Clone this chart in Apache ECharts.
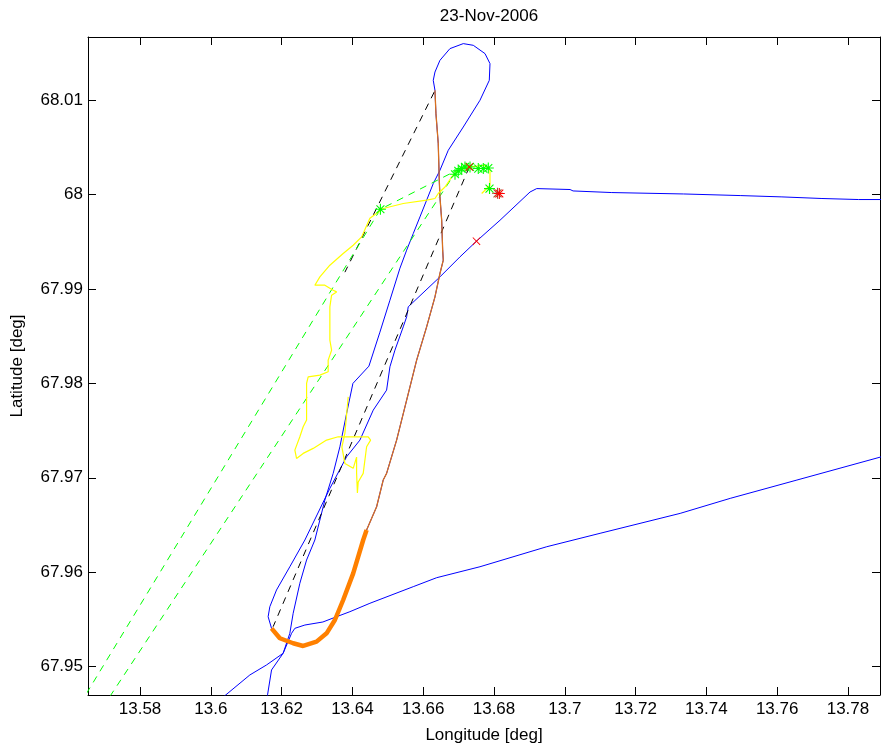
<!DOCTYPE html>
<html>
<head>
<meta charset="utf-8">
<script src="https://cdn.jsdelivr.net/npm/echarts@6/dist/echarts.min.js"></script>
<style>
html,body{margin:0;padding:0;background:#fff;}
#chart{width:881px;height:753px;}
</style>
</head>
<body>
<div id="chart"></div>
<script>
// ---- data (longitude, latitude) ----
const titleText = '23-Nov-2006';
const xName = 'Longitude [deg]';
const yName = 'Latitude [deg]';
const xTicks = [13.58,13.6,13.62,13.64,13.66,13.68,13.7,13.72,13.74,13.76,13.78];
const yTicks = [67.95,67.96,67.97,67.98,67.99,68,68.01];
const xRange = [13.5653, 13.78905];
const yRange = [67.9470, 68.01667];

// main blue track (loop)
const blueTrack = [
 [13.79196,67.99946],[13.78300,67.99946],[13.78255,67.99957],[13.77265,67.99957],[13.77217,67.99974],
 [13.76134,67.99974],[13.76086,67.99988],[13.74955,67.99988],[13.74907,68.00005],[13.73352,68.00005],
 [13.73307,68.00020],[13.71328,68.00020],[13.71280,68.00037],[13.70234,68.00037],[13.70149,68.00052],
 [13.69207,68.00062],[13.69018,68.00026],[13.68170,67.99727],[13.67505,67.99505],[13.67039,67.99339],
 [13.66473,67.99127],[13.65577,67.98810],[13.65532,67.98704],[13.65436,67.98598],[13.65201,67.98351],
 [13.65060,67.98175],[13.64966,67.97928],[13.64588,67.97716],[13.64212,67.97399],[13.63836,67.97222],
 [13.63363,67.96888],[13.62657,67.96341],[13.62232,67.96058],[13.61856,67.95812],[13.61667,67.95635],
 [13.61619,67.95529],[13.61715,67.95406],[13.61950,67.95301],[13.62326,67.95248],[13.62609,67.95219],
 [13.62987,67.95265],[13.63270,67.95353],[13.63505,67.95494],[13.63739,67.95706],[13.64022,67.95988],
 [13.64305,67.96341],[13.64401,67.96447],[13.64684,67.96693],[13.64870,67.96976],[13.64966,67.97047],
 [13.65249,67.97399],[13.65532,67.97822],[13.65815,67.98246],[13.66097,67.98598],[13.66332,67.98915],
 [13.66473,67.99163],[13.66567,67.99304],[13.66550,67.99410],[13.66522,67.99727],[13.66473,67.99974],
 [13.66454,68.00150],[13.66425,68.00539],[13.66380,68.00556],[13.66360,68.00856],[13.66332,68.01103],
 [13.66284,68.01208],[13.66332,68.01296],[13.66473,68.01420],[13.66756,68.01544],[13.67132,68.01597],
 [13.67415,68.01579],[13.67746,68.01491],[13.67887,68.01385],[13.67867,68.01208],[13.67604,68.00997],
 [13.67132,68.00714],[13.66708,68.00468],[13.66473,68.00256],[13.66284,68.00115],[13.66097,67.99939],
 [13.65908,67.99762],[13.65719,67.99586],[13.65532,67.99410],[13.65343,67.99219],[13.65060,67.98880],
 [13.64777,67.98542],[13.64466,67.98182],[13.64014,67.97999],[13.63836,67.97681],[13.63646,67.97328],
 [13.63457,67.97047],[13.63222,67.96764],[13.62939,67.96341],[13.62705,67.96129],[13.62515,67.95883],
 [13.62326,67.95565],[13.62232,67.95353],[13.62043,67.95142],[13.61715,67.94965],[13.61602,67.94701],
 [13.61554,67.94595]
];
// lower blue track
const blueLower = [
 [13.60084,67.94595],[13.60423,67.94701],[13.61102,67.94912],[13.61574,67.95018],[13.62043,67.95142],
 [13.62281,67.95353],[13.62374,67.95406],[13.62657,67.95441],[13.63166,67.95473],[13.63553,67.95529],
 [13.63929,67.95582],[13.64494,67.95671],[13.65719,67.95847],[13.66380,67.95942],[13.67604,67.96058],
 [13.69490,67.96270],[13.70997,67.96412],[13.73259,67.96623],[13.74673,67.96782],[13.76558,67.96976],
 [13.79196,67.97248]
];
// orange segments
const orangeThick = [
 [13.61715,67.95406],[13.61950,67.95301],[13.62326,67.95248],[13.62609,67.95219],[13.62987,67.95265],
 [13.63270,67.95353],[13.63505,67.95494],[13.63739,67.95706],[13.64022,67.95988],[13.64305,67.96341],
 [13.64401,67.96447]
];
const orangeThin = [
 [13.64401,67.96447],[13.64684,67.96693],[13.64870,67.96976],[13.64966,67.97047],[13.65249,67.97399],
 [13.65532,67.97822],[13.65815,67.98246],[13.66097,67.98598],[13.66332,67.98915],[13.66473,67.99163],
 [13.66567,67.99304],[13.66550,67.99410],[13.66522,67.99727],[13.66473,67.99974],[13.66454,68.00150],
 [13.66425,68.00539],[13.66380,68.00556],[13.66360,68.00856],[13.66332,68.01103]
];
// black dashed
const blackDash1 = [[13.66312,68.01085],[13.63788,67.99177]];
const blackDash2 = [[13.67302,68.00291],[13.61760,67.95423]];
// green dashed
const greenDash1 = [[13.56295,67.94598],[13.64791,67.99843],[13.66954,68.00256]];
const greenDash2 = [[13.56945,67.94569],[13.66898,68.00224]];
// yellow track
const yellowTrack = [
 [13.67652,68.00010],[13.67887,68.00097],[13.67887,68.00256],[13.67746,68.00309],[13.67322,68.00291],
 [13.66991,68.00256],[13.66804,68.00185],[13.66615,68.00079],[13.66425,68.00010],[13.66332,67.99957],
 [13.66097,67.99939],[13.65436,67.99904],[13.64870,67.99851],[13.64494,67.99748],[13.64260,67.99550],
 [13.64022,67.99462],[13.63739,67.99375],[13.63363,67.99251],[13.63081,67.99127],[13.62939,67.99039],
 [13.63222,67.99039],[13.63457,67.98986],[13.63553,67.98968],[13.63412,67.98933],[13.63363,67.98810],
 [13.63363,67.98457],[13.63412,67.98351],[13.63315,67.98246],[13.63315,67.98122],[13.63081,67.98087],
 [13.62750,67.98069],[13.62705,67.97999],[13.62705,67.97611],[13.62609,67.97540],[13.62515,67.97434],
 [13.62374,67.97293],[13.62422,67.97205],[13.62609,67.97258],[13.62891,67.97311],[13.63270,67.97399],
 [13.63598,67.97434],[13.63929,67.97434],[13.64446,67.97434],[13.64514,67.97399],[13.64401,67.97328],
 [13.64305,67.97047],[13.64164,67.96955],[13.64141,67.96838],[13.64118,67.97050],[13.64118,67.97219],
 [13.64022,67.97100],[13.63788,67.97152],[13.63703,67.97325],[13.63788,67.97473],[13.63881,67.97857]
];
// markers
const greenStars = [
 [13.64791,67.99843],[13.66898,68.00214],[13.66991,68.00249],[13.67087,68.00274],[13.67180,68.00291],
 [13.67322,68.00291],[13.67556,68.00274],[13.67698,68.00274],[13.67839,68.00280],[13.67873,68.00062]
];
const redCrosses = [[13.67302,68.00291],[13.67505,67.99505]];
const brownStar = [[13.68099,68.00012]];
const redStar = [[13.68150,68.00010]];

// ---- chart ----
const FONT = '"Liberation Sans", Arial, Helvetica, sans-serif';
const STAR = 'path://M0 9L20 9L20 11L0 11Z M9 0L11 0L11 20L9 20Z M2.1 3.5L3.5 2.1L17.9 16.5L16.5 17.9Z M16.5 2.1L17.9 3.5L3.5 17.9L2.1 16.5Z';
const XMARK = 'path://M1.3 2.7L2.7 1.3L18.7 17.3L17.3 18.7Z M17.3 1.3L18.7 2.7L2.7 18.7L1.3 17.3Z';
const fmt = v => String(+(+v).toFixed(2));

function lineSeries(data, color, width, type, z){
  return {type:'line', data:data, showSymbol:false, symbol:'none', clip:true, z:z||2,
    lineStyle:{color:color, width:width, type:type||'solid'}, silent:true};
}
function markSeries(data, symbol, size, color, z){
  return {type:'scatter', data:data, symbol:symbol, symbolSize:size, z:z, silent:true,
    itemStyle:{color:color, opacity:1}};
}

const chart = echarts.init(document.getElementById('chart'), null, {renderer:'canvas'});
const axisLineStyle = {color:'#000', width:1};
chart.setOption({
  animation:false,
  backgroundColor:'#fff',
  title:{text:titleText, left:484, top:3, textAlign:'center',
    textStyle:{fontFamily:FONT, fontSize:17, fontWeight:'normal', color:'#000'}},
  grid:{left:88, top:37, right:1, bottom:58, containLabel:false, show:false},
  xAxis:[
    {type:'value', min:xRange[0], max:xRange[1], position:'bottom',
     name:xName, nameLocation:'middle', nameGap:32,
     nameTextStyle:{fontFamily:FONT, fontSize:17, color:'#000'},
     axisLine:{show:true, onZero:false, lineStyle:axisLineStyle},
     axisTick:{show:true, inside:true, length:8, customValues:xTicks, lineStyle:axisLineStyle},
     axisLabel:{show:true, customValues:xTicks, formatter:fmt, margin:6,
       fontFamily:FONT, fontSize:17, color:'#000'},
     splitLine:{show:false}},
    {type:'value', min:xRange[0], max:xRange[1], position:'top',
     axisLine:{show:true, onZero:false, lineStyle:axisLineStyle},
     axisTick:{show:true, inside:true, length:8, customValues:xTicks, lineStyle:axisLineStyle},
     axisLabel:{show:false}, splitLine:{show:false}}
  ],
  yAxis:[
    {type:'value', min:yRange[0], max:yRange[1], position:'left',
     name:yName, nameLocation:'middle', nameGap:62, nameRotate:90,
     nameTextStyle:{fontFamily:FONT, fontSize:17, color:'#000'},
     axisLine:{show:true, onZero:false, lineStyle:axisLineStyle},
     axisTick:{show:true, inside:true, length:8, customValues:yTicks, lineStyle:axisLineStyle},
     axisLabel:{show:true, customValues:yTicks, formatter:fmt, margin:5,
       fontFamily:FONT, fontSize:17, color:'#000'},
     splitLine:{show:false}},
    {type:'value', min:yRange[0], max:yRange[1], position:'right',
     axisLine:{show:true, onZero:false, lineStyle:axisLineStyle},
     axisTick:{show:true, inside:true, length:8, customValues:yTicks, lineStyle:axisLineStyle},
     axisLabel:{show:false}, splitLine:{show:false}}
  ],
  series:[
    lineSeries(blueTrack, '#0000ff', 1, 'solid', 2),
    lineSeries(blueLower, '#0000ff', 1, 'solid', 2),
    lineSeries(blackDash1, '#000000', 1, [7,6], 3),
    lineSeries(blackDash2, '#000000', 1, [7,6], 3),
    lineSeries(greenDash1, '#00ff00', 1, [7,6], 3),
    lineSeries(greenDash2, '#00ff00', 1, [7,6], 3),
    lineSeries(orangeThin, '#d8701e', 1.3, 'solid', 4),
    lineSeries(orangeThick, '#ff8000', 4.5, 'solid', 4),
    lineSeries(yellowTrack, '#ffff00', 1.2, 'solid', 5),
    markSeries(greenStars, STAR, 11, '#00ff00', 6),
    markSeries(redCrosses, XMARK, 8, '#ff0000', 7),
    markSeries(brownStar, STAR, 11, '#a0522d', 7),
    markSeries(redStar, STAR, 11, '#ff0000', 8)
  ]
});
</script>
</body>
</html>
